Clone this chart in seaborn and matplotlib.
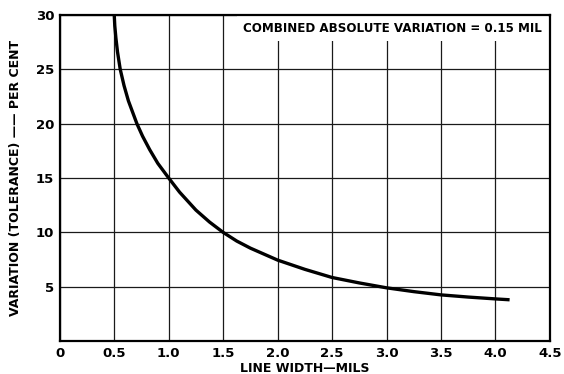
import matplotlib
matplotlib.use("Agg")
import matplotlib.pyplot as plt
import seaborn as sns
import pandas as pd

# line width (mils) and resulting tolerance (per cent)
line_width = [0.500, 0.505, 0.515, 0.530, 0.555, 0.590, 0.630, 0.708, 0.760,
              0.826, 0.900, 1.000, 1.100, 1.250, 1.375, 1.500, 1.625, 1.750,
              2.000, 2.250, 2.500, 2.750, 3.000, 3.250, 3.500, 3.750, 4.000,
              4.130]
tolerance = [30.0, 29.0, 27.9, 26.6, 25.0, 23.5, 22.1, 20.0, 18.85,
             17.6, 16.35, 15.0, 13.7, 12.05, 10.95, 10.0, 9.2, 8.55,
             7.45, 6.6, 5.85, 5.35, 4.9, 4.55, 4.25, 4.05, 3.88,
             3.8]

x_ticks = [0, 0.5, 1.0, 1.5, 2.0, 2.5, 3.0, 3.5, 4.0, 4.5]
x_labels = ["0", "0.5", "1.0", "1.5", "2.0", "2.5", "3.0", "3.5", "4.0", "4.5"]
y_ticks = [5, 10, 15, 20, 25, 30]
y_labels = ["5", "10", "15", "20", "25", "30"]

df = pd.DataFrame({"width": line_width, "tol": tolerance})

sns.set_theme(style="white")
plt.rcParams["font.family"] = ["DejaVu Sans"]
plt.rcParams["text.color"] = "black"
plt.rcParams["axes.labelcolor"] = "black"
plt.rcParams["xtick.color"] = "black"
plt.rcParams["ytick.color"] = "black"

fig = plt.figure(figsize=(5.64, 3.74), dpi=100)
ax = fig.add_axes([0.106, 0.088, 0.869, 0.872])

sns.lineplot(data=df, x="width", y="tol", ax=ax, color="black", linewidth=2.4,
             sort=False, solid_capstyle="butt", solid_joinstyle="round")

ax.set_xlim(0, 4.5)
ax.set_ylim(0, 30)
ax.set_xticks(x_ticks)
ax.set_xticklabels(x_labels, fontsize=9.5, fontweight="bold")
ax.set_yticks(y_ticks)
ax.set_yticklabels(y_labels, fontsize=9.5, fontweight="bold")
ax.tick_params(length=0, pad=4)

ax.grid(True, color="#1a1a1a", linewidth=0.9)
for s in ax.spines.values():
    s.set_color("black")
    s.set_linewidth(1.6)

ax.set_xlabel("LINE WIDTH\u2014MILS", fontsize=9, fontweight="bold", labelpad=2)
ax.set_ylabel("VARIATION (TOLERANCE) \u2014\u2014 PER CENT", fontsize=9,
              fontweight="bold", labelpad=10)

ax.text(0.984, 0.978, "COMBINED ABSOLUTE VARIATION = 0.15 MIL",
        transform=ax.transAxes, ha="right", va="top", fontsize=8.6,
        fontweight="bold",
        bbox=dict(facecolor="white", edgecolor="none", pad=4.5))
ax.spines["top"].set_zorder(5)

fig.savefig("out.png", dpi=100)
